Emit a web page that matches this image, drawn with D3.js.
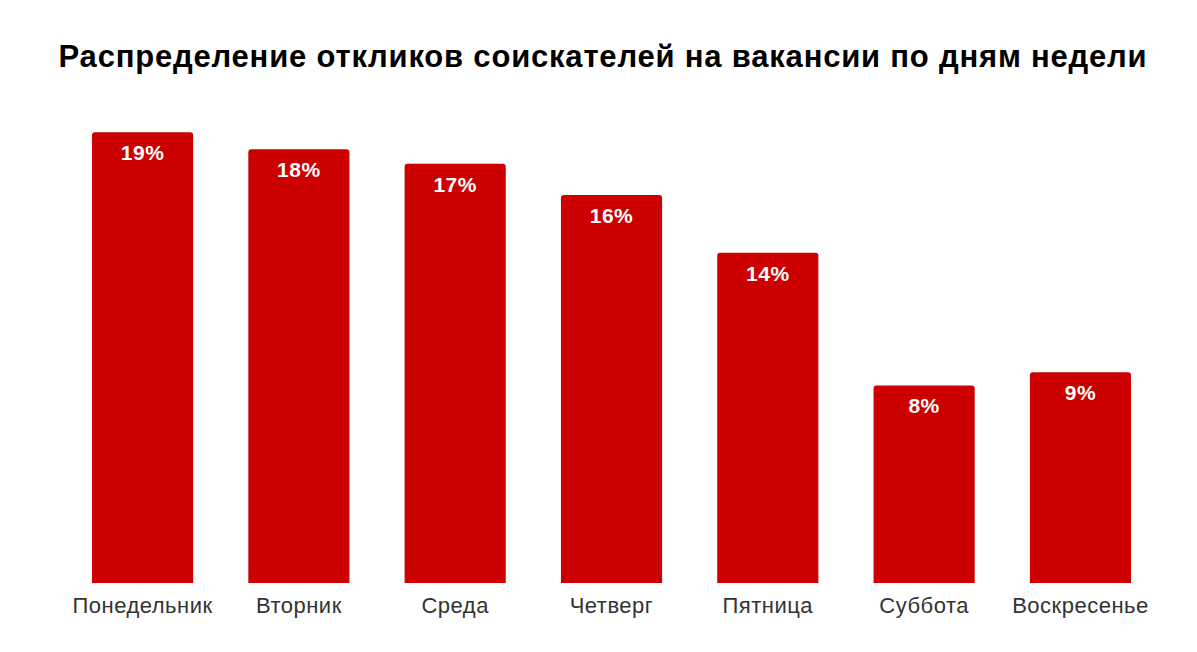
<!DOCTYPE html>
<html>
<head>
<meta charset="utf-8">
<script src="https://cdn.jsdelivr.net/npm/d3@7"></script>
<style>
  body { margin: 0; background: #fff; }
  svg { display: block; font-family: "Liberation Sans", Arial, sans-serif; }
</style>
</head>
<body>
<div id="chart"></div>
<script>
// days of the week and share of applications (%)
const days = ["Понедельник", "Вторник", "Среда", "Четверг", "Пятница", "Суббота", "Воскресенье"];
const shares = [18.7, 18.0, 17.4, 16.1, 13.7, 8.2, 8.75];
const shareLabels = ["19%", "18%", "17%", "16%", "14%", "8%", "9%"];

const WIDTH = 1197,
    HEIGHT = 652,
    BASELINE = 583;

let svg = d3.select("#chart")
    .append("svg")
    .attr("width", WIDTH)
    .attr("height", HEIGHT);

let x = d3.scaleBand()
    .domain(days)
    .range([92, 1131])
    .paddingInner(0.353)
    .paddingOuter(0);

let y = d3.scaleLinear()
    .domain([0, 20])
    .range([BASELINE, BASELINE - 482]);

// Title
svg.append("text")
    .attr("x", 603)
    .attr("y", 67)
    .attr("text-anchor", "middle")
    .attr("font-size", 31)
    .attr("letter-spacing", 0.8)
    .attr("font-weight", "bold")
    .attr("fill", "#000")
    .text("Распределение откликов соискателей на вакансии по дням недели");

let data = days.map((d, i) => ({ day: d, value: shares[i], label: shareLabels[i] }));

// Bars: rounded top, square bottom
svg.selectAll(".bar")
    .data(data)
    .enter()
    .append("path")
    .classed("bar", true)
    .attr("fill", "#cc0000")
    .attr("d", d => {
        let x0 = x(d.day), x1 = x0 + x.bandwidth(), y0 = y(d.value), r = 3;
        return `M${x0},${BASELINE}V${y0 + r}Q${x0},${y0} ${x0 + r},${y0}H${x1 - r}Q${x1},${y0} ${x1},${y0 + r}V${BASELINE}Z`;
    });

// Value labels inside bars
svg.selectAll(".val")
    .data(data)
    .enter()
    .append("text")
    .classed("val", true)
    .attr("x", d => x(d.day) + x.bandwidth() / 2)
    .attr("y", d => y(d.value) + 28)
    .attr("text-anchor", "middle")
    .attr("font-size", 21)
    .attr("letter-spacing", 0.5)
    .attr("font-weight", "bold")
    .attr("fill", "#fff")
    .text(d => d.label);

// Category axis
let xAxis = svg.append("g")
    .attr("transform", `translate(0,${BASELINE})`)
    .call(d3.axisBottom(x).tickSize(0).tickPadding(14));

xAxis.select(".domain").remove();
xAxis.selectAll("text")
    .attr("font-size", 22)
    .attr("letter-spacing", 0.5)
    .attr("font-family", "\"Liberation Sans\", Arial, sans-serif")
    .attr("fill", "#333");
</script>
</body>
</html>
